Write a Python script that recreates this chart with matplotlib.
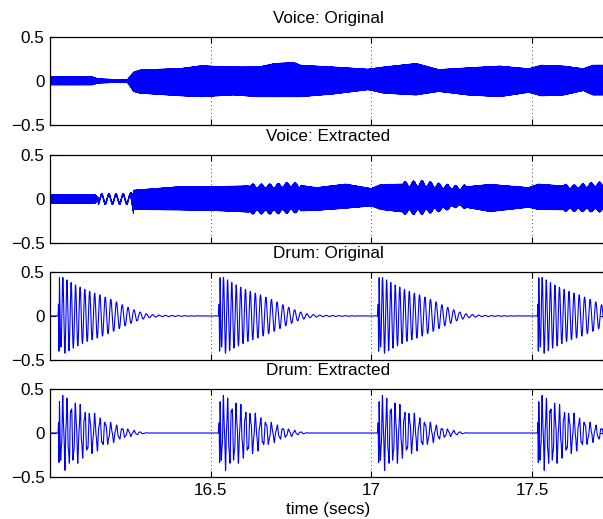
import numpy as np
import matplotlib.pyplot as plt

plt.rcParams['font.family'] = ['Liberation Sans', 'DejaVu Sans']
plt.rcParams['font.size'] = 12.3

FS = 16000
T_START, T_END = 16.0, 17.7305

# voice, original: upper / lower envelope
voice_orig_t = [16.0, 16.13, 16.15, 16.24, 16.26, 16.28, 16.41, 16.47, 16.57, 16.65,
                16.70, 16.76, 16.78, 16.88, 16.99, 17.04, 17.14, 17.21, 17.30, 17.40,
                17.49, 17.53, 17.60, 17.66, 17.69, 17.74]
voice_orig_up = [0.05, 0.05, 0.025, 0.012, 0.10, 0.125, 0.144, 0.174, 0.16, 0.16,
                 0.20, 0.21, 0.18, 0.16, 0.135, 0.16, 0.20, 0.13, 0.15, 0.17,
                 0.14, 0.18, 0.17, 0.14, 0.18, 0.18]
voice_orig_dn = [0.045, 0.045, 0.025, 0.012, 0.12, 0.14, 0.17, 0.18, 0.16, 0.18,
                 0.18, 0.18, 0.18, 0.15, 0.10, 0.14, 0.16, 0.12, 0.16, 0.18,
                 0.13, 0.17, 0.16, 0.11, 0.16, 0.16]

# voice, extracted
voice_ext_t = [16.0, 16.14, 16.15, 16.25, 16.26, 16.40, 16.50, 16.62, 16.70, 16.75,
               16.83, 16.92, 17.0, 17.03, 17.10, 17.16, 17.22, 17.27, 17.37, 17.49,
               17.52, 17.63, 17.70, 17.74]
voice_ext_up = [0.05, 0.05, 0.015, 0.015, 0.10, 0.14, 0.14, 0.15, 0.15, 0.17,
                0.13, 0.17, 0.12, 0.165, 0.17, 0.18, 0.15, 0.13, 0.167, 0.13,
                0.17, 0.14, 0.17, 0.17]
voice_ext_dn = [0.05, 0.05, 0.015, 0.015, 0.12, 0.125, 0.13, 0.15, 0.15, 0.14,
                0.13, 0.106, 0.08, 0.12, 0.15, 0.15, 0.12, 0.08, 0.144, 0.095,
                0.12, 0.125, 0.13, 0.13]
# slow wobble before the voice comes in, and ripply stretches later on
wobble_start, wobble_end, wobble_amp, wobble_hz = 16.15, 16.26, 0.05, 45
ripple_start = [16.62, 17.10, 17.60]
ripple_end = [16.78, 17.30, 17.74]
ripple_depth = [0.15, 0.18, 0.15]
ripple_hz = 38
voice_hz = 1103

# drum hits
drum_onsets = [16.025, 16.525, 17.02, 17.517]
drum_env_t = [0.0, 0.006, 0.014, 0.05, 0.09, 0.13, 0.17, 0.21, 0.25, 0.28, 0.32, 0.45]
drum_orig_env = [0.0, 0.30, 0.44, 0.36, 0.29, 0.24, 0.18, 0.11, 0.05, 0.02, 0.008, 0.0]
drum_ext_env = [0.0, 0.25, 0.35, 0.30, 0.22, 0.155, 0.09, 0.045, 0.015, 0.0, 0.0, 0.0]
drum_freq_t = [0.0, 0.05, 0.15, 0.30]
drum_freq_hz = [85, 72, 58, 50]
click_t = [0.0, 0.0015, 0.003, 0.0045, 0.006]
click_orig = [0.0, 0.08, -0.55, 0.28, 0.0]
click_ext = [0.0, 0.06, -0.43, 0.22, 0.0]

titles = ['Voice: Original', 'Voice: Extracted', 'Drum: Original', 'Drum: Extracted']
xticks = [16.5, 17, 17.5]
yticks = [-0.5, 0, 0.5]
yticklabels = ['\u22120.5', '0', '0.5']

t = np.arange(T_START, T_END, 1.0 / FS)


def voice(env_t, up, dn):
    c = np.sin(2 * np.pi * voice_hz * t)
    return np.where(c > 0, np.interp(t, env_t, up) * c, np.interp(t, env_t, dn) * c)


def drum(env, click, extra=0.0):
    y = np.zeros_like(t)
    for o in drum_onsets:
        m = t >= o
        tau = t[m] - o
        ph = 2 * np.pi * np.cumsum(np.interp(tau, drum_freq_t, drum_freq_hz)) / FS
        a = np.interp(tau, drum_env_t, env, right=0)
        y[m] += a * (np.sin(ph) + extra * np.sin(2.7 * ph))
        y[m] += np.interp(tau, click_t, click, right=0)
    return y


v_orig = voice(voice_orig_t, voice_orig_up, voice_orig_dn)
v_ext = voice(voice_ext_t, voice_ext_up, voice_ext_dn)
w = (t >= wobble_start) & (t < wobble_end)
v_ext[w] += wobble_amp * np.sin(2 * np.pi * wobble_hz * t[w])
for s, e, d in zip(ripple_start, ripple_end, ripple_depth):
    r = (t >= s) & (t < e)
    v_ext[r] *= 1 + d * np.cos(2 * np.pi * ripple_hz * t[r])

d_orig = drum(drum_orig_env, click_orig)
d_ext = drum(drum_ext_env, click_ext, extra=0.25)

fig = plt.figure(figsize=(6.03, 5.19), dpi=100)
bottoms = [0.7592, 0.5318, 0.3064, 0.0809]
signals = [v_orig, v_ext, d_orig, d_ext]

for i, (b, y, title) in enumerate(zip(bottoms, signals, titles)):
    ax = fig.add_axes([0.0829, b, 0.922, 0.1696])
    ax.plot(t, y, color='#0000ff', lw=0.6 if i < 2 else 0.8)
    ax.set_xlim(T_START, T_END)
    ax.set_ylim(-0.5, 0.5)
    ax.set_xticks(xticks)
    ax.set_yticks(yticks)
    ax.set_yticklabels(yticklabels)
    if i < 3:
        ax.set_xticklabels([])
    else:
        ax.set_xticklabels(['16.5', '17', '17.5'])
        ax.set_xlabel('time (secs)', labelpad=3)
    ax.grid(axis='x', color='0.25', linestyle=(0, (1, 3)), linewidth=0.7)
    ax.tick_params(direction='in', top=True, right=True, length=4, width=0.8, pad=4)
    for sp in ax.spines.values():
        sp.set_linewidth(0.9)
    ax.set_title(title, fontsize=12.3, pad=10)

fig.savefig('out.png', dpi=100)
